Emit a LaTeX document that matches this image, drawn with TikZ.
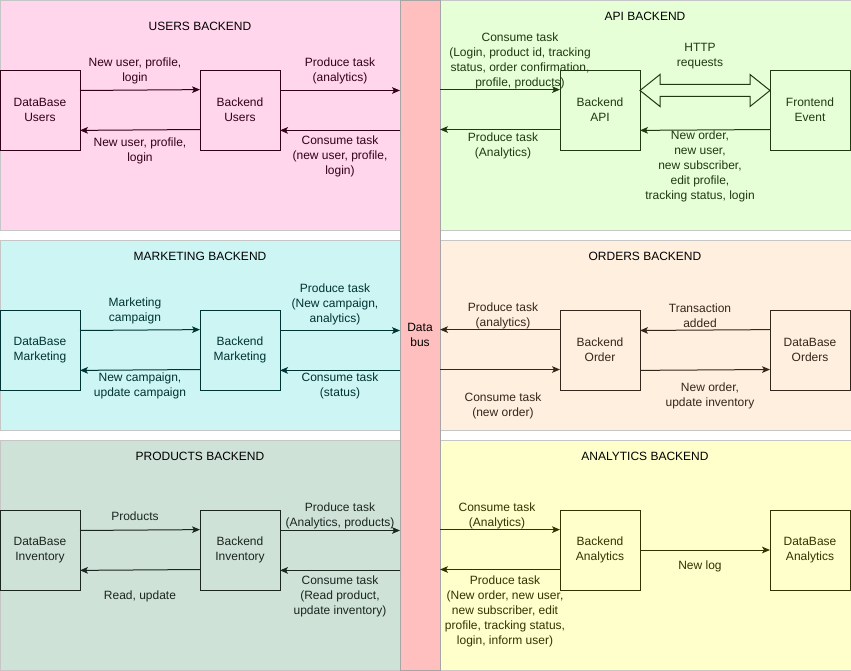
\documentclass[tikz,border=0pt]{standalone}
\usepackage{fontspec}
\setmainfont{Liberation Sans}
\usetikzlibrary{arrows.meta}

\definecolor{usersbg}{HTML}{FFD6EC}
\definecolor{usersdk}{HTML}{33001A}
\definecolor{apibg}{HTML}{E6FFD6}
\definecolor{apidk}{HTML}{1F3A10}
\definecolor{mktbg}{HTML}{CCF5F4}
\definecolor{mktdk}{HTML}{003333}
\definecolor{ordbg}{HTML}{FFEFDF}
\definecolor{orddk}{HTML}{33261A}
\definecolor{prodbg}{HTML}{CFE2D8}
\definecolor{proddk}{HTML}{1A2620}
\definecolor{anabg}{HTML}{FFFFCC}
\definecolor{anadk}{HTML}{333300}
\definecolor{busbg}{HTML}{FFBFBF}
\newcommand{\lblfont}{\fontsize{9}{11.25}\selectfont}

\begin{document}
\begin{tikzpicture}[x=0.75pt,y=0.75pt,yscale=-1,xscale=1,
  box/.style={draw, minimum width=60pt, minimum height=60pt, inner sep=0pt, outer sep=0pt, align=center, font=\lblfont, line width=0.75pt},
  lbl/.style={align=center, inner sep=0.75pt, font=\lblfont, yshift=-0.75pt},
  flow/.style={-{Stealth[length=6pt,width=5pt,inset=1.5pt]}, line width=0.75pt},
  panel/.style={draw=gray!45, line width=0.75pt}]
\useasboundingbox (0,0) rectangle (851,671);

%Shape: Rectangle [panels]
\draw [panel, fill=usersbg] (0,0) rectangle (400,230);
\draw [panel, fill=apibg] (440,0) rectangle (851,230);
\draw [panel, fill=mktbg] (0,240) rectangle (400,430);
\draw [panel, fill=ordbg] (440,240) rectangle (851,430);
\draw [panel, fill=prodbg] (0,440) rectangle (400,670);
\draw [panel, fill=anabg] (440,440) rectangle (851,670);

%Shape: Rectangle [data bus]
\node [draw=gray!70, fill=busbg, minimum width=30pt, minimum height=502.5pt, inner sep=0pt, outer sep=0pt, align=center, font=\lblfont, line width=0.75pt] (bus) at (420,335) {Data\\bus};

% Text Node [titles]
\node [lbl] (tusers) at (200,25) {USERS BACKEND};
\node [lbl] (tapi) at (645,15) {API BACKEND};
\node [lbl] (tmkt) at (200,255) {MARKETING BACKEND};
\node [lbl] (tord) at (645,255) {ORDERS BACKEND};
\node [lbl] (tprod) at (200,455) {PRODUCTS BACKEND};
\node [lbl] (tana) at (645,455) {ANALYTICS BACKEND};

%Users backend
\node [box, draw=usersdk, text=usersdk] (dbu) at (40,110) {DataBase\\Users};
\node [box, draw=usersdk, text=usersdk] (beu) at (240,110) {Backend\\Users};
\draw [flow, usersdk] (dbu.26.57) -- (beu.153.43);
\draw [flow, usersdk] (beu.206.57) -- (dbu.333.43);
\draw [flow, usersdk] (beu.26.57) -- (beu.26.57 -| bus.west);
\draw [flow, usersdk] (beu.333.43 -| bus.west) -- (beu.333.43);
% Text Node
\node [lbl, text=usersdk] (lu1) at (135,70) {New user, profile,\\login};
\node [lbl, text=usersdk] (lu2) at (140,150) {New user, profile,\\login};
\node [lbl, text=usersdk] (lu3) at (340,70) {Produce task\\(analytics)};
\node [lbl, text=usersdk] (lu4) at (340,155) {Consume task\\(new user, profile,\\login)};

%API backend
\node [box, draw=apidk, text=apidk] (bapi) at (600,110) {Backend\\API};
\node [box, draw=apidk, text=apidk] (fe) at (810,110) {Frontend\\Event};
\draw [flow, apidk] (bapi.153.43 -| bus.east) -- (bapi.153.43);
\draw [flow, apidk] (bapi.206.57) -- (bapi.206.57 -| bus.east);
\draw [flow, apidk] (fe.206.57) -- (bapi.333.43);
%Shape: Double Arrow
\draw [apidk, line width=0.75pt] (bapi.26.57) -- ++(20,-16) -- ++(0,10) -- ++(90,0) -- ++(0,-10) -- ++(20,16) -- ++(-20,16) -- ++(0,-10) -- ++(-90,0) -- ++(0,10) -- cycle;
% Text Node
\node [lbl, text=apidk] (la1) at (520,60) {Consume task\\(Login, product id, tracking\\status, order confirmation,\\profile, products)};
\node [lbl, text=apidk] (la2) at (700,55) {HTTP\\requests};
\node [lbl, text=apidk] (la3) at (503,145) {Produce task\\(Analytics)};
\node [lbl, text=apidk] (la4) at (700,165.5) {New order,\\new user,\\new subscriber,\\edit profile,\\tracking status, login};

%Marketing backend
\node [box, draw=mktdk, text=mktdk] (dbm) at (40,350) {DataBase\\Marketing};
\node [box, draw=mktdk, text=mktdk] (bem) at (240,350) {Backend\\Marketing};
\draw [flow, mktdk] (dbm.26.57) -- (bem.153.43);
\draw [flow, mktdk] (bem.206.57) -- (dbm.333.43);
\draw [flow, mktdk] (bem.26.57) -- (bem.26.57 -| bus.west);
\draw [flow, mktdk] (bem.333.43 -| bus.west) -- (bem.333.43);
% Text Node
\node [lbl, text=mktdk] (lm1) at (135,310) {Marketing\\campaign};
\node [lbl, text=mktdk] (lm2) at (140,385) {New campaign,\\update campaign};
\node [lbl, text=mktdk] (lm3) at (335,303) {Produce task\\(New campaign,\\analytics)};
\node [lbl, text=mktdk] (lm4) at (340,385) {Consume task\\(status)};

%Orders backend
\node [box, draw=orddk, text=orddk] (beo) at (600,350) {Backend\\Order};
\node [box, draw=orddk, text=orddk] (dbo) at (810,350) {DataBase\\Orders};
\draw [flow, orddk] (beo.153.43) -- (beo.153.43 -| bus.east);
\draw [flow, orddk] (beo.206.57 -| bus.east) -- (beo.206.57);
\draw [flow, orddk] (dbo.153.43) -- (beo.26.57);
\draw [flow, orddk] (beo.333.43) -- (dbo.206.57);
% Text Node
\node [lbl, text=orddk] (lo1) at (503,315) {Produce task\\(analytics)};
\node [lbl, text=orddk] (lo2) at (700,315) {Transaction\\added};
\node [lbl, text=orddk] (lo3) at (503,405) {Consume task\\(new order)};
\node [lbl, text=orddk] (lo4) at (710,395) {New order,\\update inventory};

%Products backend
\node [box, draw=proddk, text=proddk] (dbi) at (40,550) {DataBase\\Inventory};
\node [box, draw=proddk, text=proddk] (bei) at (240,550) {Backend\\Inventory};
\draw [flow, proddk] (dbi.26.57) -- (bei.153.43);
\draw [flow, proddk] (bei.206.57) -- (dbi.333.43);
\draw [flow, proddk] (bei.26.57) -- (bei.26.57 -| bus.west);
\draw [flow, proddk] (bei.333.43 -| bus.west) -- (bei.333.43);
% Text Node
\node [lbl, text=proddk] (lp1) at (135,515) {Products};
\node [lbl, text=proddk] (lp2) at (140,595) {Read, update};
\node [lbl, text=proddk] (lp3) at (340,515) {Produce task\\(Analytics, products)};
\node [lbl, text=proddk] (lp4) at (340,595) {Consume task\\(Read product,\\update inventory)};

%Analytics backend
\node [box, draw=anadk, text=anadk] (bean) at (600,550) {Backend\\Analytics};
\node [box, draw=anadk, text=anadk] (dban) at (810,550) {DataBase\\Analytics};
\draw [flow, anadk] (bean.153.43 -| bus.east) -- (bean.153.43);
\draw [flow, anadk] (bean.206.57) -- (bean.206.57 -| bus.east);
\draw [flow, anadk] (bean.east) -- (dban.west);
% Text Node
\node [lbl, text=anadk] (ln1) at (497,515) {Consume task\\(Analytics)};
\node [lbl, text=anadk] (ln2) at (505,610) {Produce task\\(New order, new user,\\new subscriber, edit\\profile, tracking status,\\login, inform user)};
\node [lbl, text=anadk] (ln3) at (700,565) {New log};

\end{tikzpicture}
\end{document}
